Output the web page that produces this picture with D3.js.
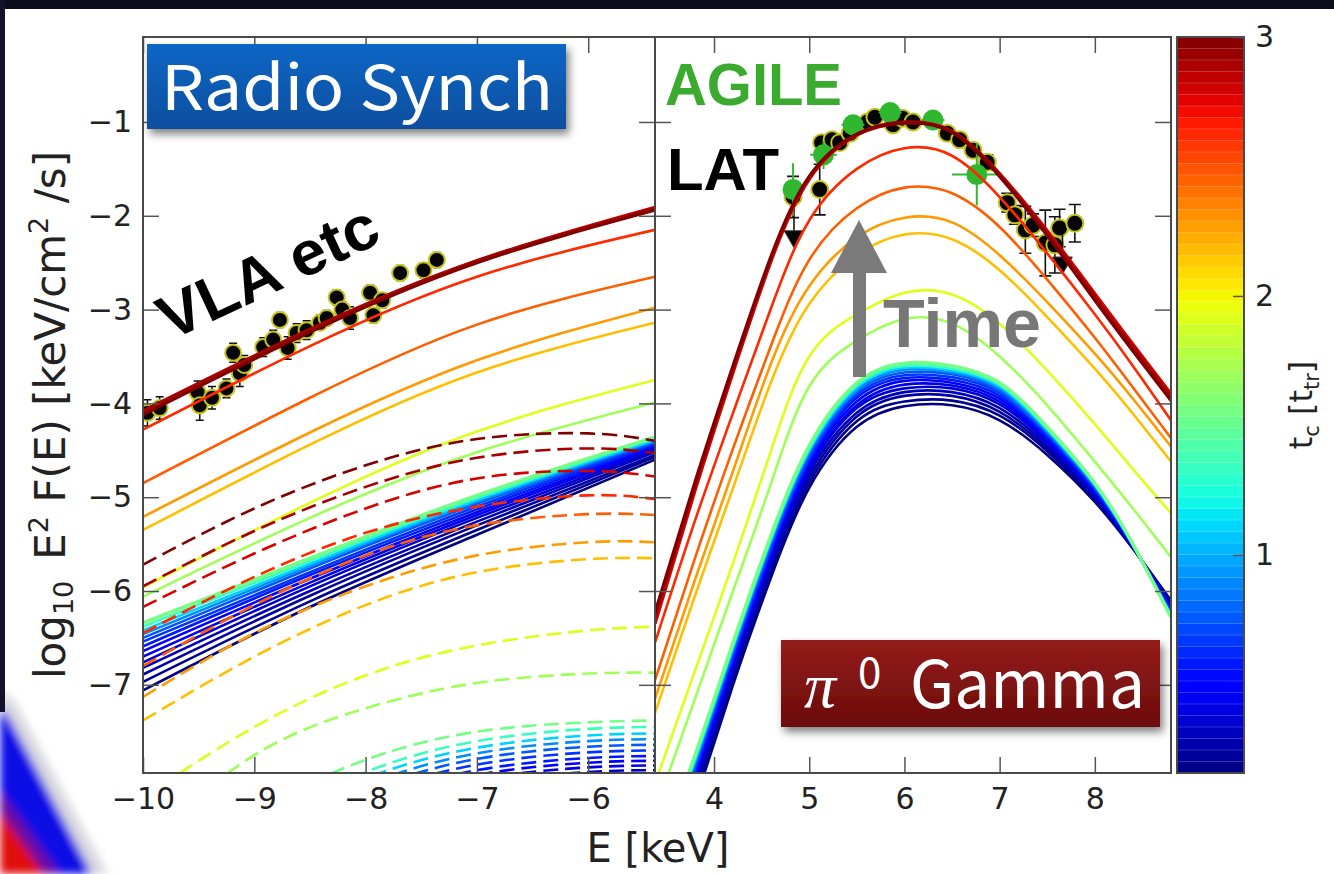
<!DOCTYPE html>
<html>
<head>
<meta charset="utf-8">
<script src="https://cdn.jsdelivr.net/npm/d3@7/dist/d3.min.js"></script>
<style>
  html, body { margin: 0; padding: 0; background: #ffffff; }
  svg { display: block; }
</style>
</head>
<body>
<svg id="chart" width="1334" height="874"></svg>
<script>
// ---------------- data ----------------
// model time steps t_c [t_tr]: the dense early bundle, then the later steps
const bundleT = [0.16, 0.20, 0.25, 0.30, 0.36, 0.42, 0.50, 0.58, 0.66, 0.76, 0.90, 1.10, 1.35, 1.55];
const lateT   = [1.70, 1.92, 2.17, 2.28, 2.46, 2.62, 2.78, 2.90, 3.00];

// radio synchrotron (solid lines): log10 E^2 F(E) sampled at synchE
const synchE = [-10, -8.5, -7, -5.4];
const synchBundle = [
  [-7.06, -6.17, -5.40, -4.60],
  [-6.97, -6.11, -5.35, -4.57],
  [-6.89, -6.05, -5.30, -4.55],
  [-6.82, -6.00, -5.26, -4.52],
  [-6.76, -5.95, -5.22, -4.50],
  [-6.70, -5.91, -5.19, -4.48],
  [-6.64, -5.87, -5.16, -4.46],
  [-6.59, -5.83, -5.13, -4.44],
  [-6.54, -5.80, -5.10, -4.43],
  [-6.50, -5.76, -5.07, -4.41],
  [-6.46, -5.73, -5.05, -4.40],
  [-6.42, -5.71, -5.03, -4.39],
  [-6.38, -5.68, -5.01, -4.37],
  [-6.34, -5.65, -4.98, -4.36]
];
const synchLate = [
  [-6.06, -5.22, -4.52, -3.99],
  [-5.96, -5.06, -4.30, -3.75],
  [-5.35, -4.44, -3.67, -3.14],
  [-5.21, -4.31, -3.54, -2.98],
  [-4.85, -3.94, -3.16, -2.65],
  [-4.28, -3.39, -2.65, -2.15],
  [-4.10, -3.22, -2.48, -1.91],
  [-4.08, -3.21, -2.48, -1.92],
  [-4.12, -3.24, -2.50, -1.94]
];

// second electron component (dashed lines), sampled at dashE
const dashE = [-10, -9, -8, -7, -6, -5.4];
const dashBundle = [
  [-10.40, -9.30, -8.65, -8.31, -8.18, -8.16],
  [-10.33, -9.23, -8.58, -8.24, -8.11, -8.09],
  [-10.27, -9.17, -8.52, -8.18, -8.05, -8.03],
  [-10.20, -9.10, -8.45, -8.11, -7.98, -7.96],
  [-10.15, -9.05, -8.40, -8.06, -7.93, -7.91],
  [-10.10, -9.00, -8.35, -8.01, -7.88, -7.86],
  [-10.05, -8.95, -8.30, -7.96, -7.83, -7.81],
  [-10.00, -8.90, -8.25, -7.91, -7.78, -7.76],
  [-9.94, -8.84, -8.19, -7.85, -7.72, -7.70],
  [-9.88, -8.78, -8.13, -7.79, -7.66, -7.64],
  [-9.82, -8.72, -8.07, -7.73, -7.60, -7.58],
  [-9.75, -8.65, -8.00, -7.67, -7.54, -7.52],
  [-9.68, -8.58, -7.93, -7.60, -7.47, -7.45],
  [-9.55, -8.42, -7.80, -7.50, -7.40, -7.38]
];
const dashLate = [
  [-8.70, -7.75, -7.25, -6.98, -6.88, -6.87],
  [-8.20, -7.45, -6.90, -6.58, -6.42, -6.38],
  [-7.38, -6.70, -6.15, -5.80, -5.66, -5.65],
  [-7.13, -6.45, -5.95, -5.62, -5.48, -5.48],
  [-6.80, -6.15, -5.62, -5.30, -5.18, -5.19],
  [-6.45, -5.85, -5.38, -5.10, -4.98, -5.02],
  [-6.17, -5.60, -5.12, -4.80, -4.72, -4.78],
  [-5.95, -5.36, -4.89, -4.58, -4.48, -4.53],
  [-5.72, -5.12, -4.66, -4.38, -4.32, -4.40]
];

// pi0-decay gamma rays (solid lines), sampled at gammaE
const gammaE = [3.38, 3.8, 4.2, 4.6, 5.0, 5.5, 6.0, 6.5, 7.0, 7.5, 8.0, 8.4, 8.8];
const gammaBundle = [
  [-9.50, -8.25, -7.00, -5.85, -4.90, -4.25, -4.03, -4.02, -4.18, -4.55, -5.05, -5.55, -6.10],
  [-9.43, -8.19, -6.95, -5.80, -4.85, -4.19, -3.98, -3.97, -4.13, -4.51, -5.03, -5.54, -6.12],
  [-9.36, -8.14, -6.90, -5.75, -4.80, -4.14, -3.92, -3.92, -4.09, -4.48, -5.00, -5.54, -6.14],
  [-9.30, -8.09, -6.85, -5.70, -4.75, -4.10, -3.88, -3.88, -4.05, -4.45, -4.98, -5.53, -6.16],
  [-9.25, -8.04, -6.81, -5.66, -4.71, -4.05, -3.84, -3.84, -4.01, -4.42, -4.97, -5.53, -6.18],
  [-9.20, -8.00, -6.78, -5.63, -4.68, -4.02, -3.80, -3.81, -3.98, -4.40, -4.95, -5.53, -6.19],
  [-9.15, -7.96, -6.74, -5.59, -4.64, -3.98, -3.76, -3.78, -3.95, -4.38, -4.93, -5.52, -6.20],
  [-9.11, -7.93, -6.71, -5.56, -4.61, -3.94, -3.73, -3.75, -3.92, -4.36, -4.92, -5.52, -6.22],
  [-9.07, -7.89, -6.68, -5.53, -4.58, -3.91, -3.70, -3.72, -3.89, -4.33, -4.91, -5.51, -6.23],
  [-9.03, -7.86, -6.65, -5.50, -4.55, -3.88, -3.67, -3.69, -3.87, -4.32, -4.89, -5.51, -6.24],
  [-9.00, -7.83, -6.62, -5.47, -4.52, -3.86, -3.64, -3.67, -3.84, -4.30, -4.88, -5.51, -6.25],
  [-8.97, -7.81, -6.60, -5.45, -4.50, -3.83, -3.62, -3.65, -3.82, -4.28, -4.87, -5.51, -6.26],
  [-8.94, -7.78, -6.58, -5.43, -4.48, -3.81, -3.60, -3.63, -3.80, -4.27, -4.86, -5.50, -6.27],
  [-8.90, -7.75, -6.55, -5.40, -4.45, -3.78, -3.57, -3.60, -3.78, -4.25, -4.85, -5.50, -6.28]
];
const gammaLate = [
  [-8.35, -7.15, -6.00, -4.85, -3.82, -3.33, -3.10, -3.15, -3.50, -4.02, -4.62, -5.12, -5.64],
  [-8.05, -6.85, -5.70, -4.50, -3.50, -3.05, -2.82, -2.84, -3.15, -3.65, -4.22, -4.70, -5.17],
  [-7.30, -6.05, -4.90, -3.77, -2.94, -2.42, -2.20, -2.25, -2.58, -3.08, -3.63, -4.11, -4.62],
  [-7.15, -5.88, -4.72, -3.57, -2.75, -2.23, -2.02, -2.07, -2.42, -2.92, -3.47, -3.95, -4.46],
  [-6.95, -5.65, -4.48, -3.38, -2.47, -1.92, -1.70, -1.76, -2.12, -2.68, -3.30, -3.83, -4.37],
  [-6.55, -5.25, -4.10, -2.98, -2.05, -1.50, -1.28, -1.36, -1.80, -2.40, -3.05, -3.60, -4.18],
  [-6.35, -4.93, -3.67, -2.48, -1.61, -1.14, -1.01, -1.10, -1.55, -2.16, -2.83, -3.37, -3.90],
  [-6.28, -4.88, -3.63, -2.45, -1.59, -1.13, -1.00, -1.10, -1.56, -2.18, -2.86, -3.40, -3.93],
  [-6.23, -4.84, -3.60, -2.43, -1.58, -1.13, -1.01, -1.11, -1.58, -2.21, -2.90, -3.44, -3.97]
];

// radio measurements (VLA etc)
const vlaE   = [-9.96, -9.85, -9.51, -9.49, -9.38, -9.25, -9.19, -9.13, -9.09, -8.92, -8.83, -8.77, -8.70,
                -8.62, -8.53, -8.41, -8.35, -8.26, -8.21, -8.14, -7.96, -7.93, -7.85, -7.69, -7.48, -7.36];
const vlaF   = [-4.10, -4.05, -3.88, -4.02, -3.94, -3.84, -3.46, -3.68, -3.59, -3.40, -3.32, -3.11, -3.41,
                -3.25, -3.22, -3.14, -3.09, -2.87, -3.00, -3.09, -2.82, -3.06, -2.90, -2.61, -2.58, -2.47];
const vlaErr = [0.14, 0.12, 0.12, 0.16, 0.12, 0.10, 0.10, 0.14, 0.10, 0.10, 0.10, 0.08, 0.12,
                0.10, 0.10, 0.08, 0.08, 0.08, 0.08, 0.12, 0.08, 0.08, 0.08, 0.08, 0.08, 0.08];

// Fermi-LAT measurements
const latE   = [4.83, 5.11, 5.13, 5.24, 5.32, 5.43, 5.61, 5.69, 5.88, 5.98, 6.09, 6.30,
                6.45, 6.58, 6.72, 6.87, 7.08, 7.16, 7.27, 7.35, 7.48, 7.58, 7.63, 7.79];
const latF   = [-1.80, -1.72, -1.22, -1.19, -1.22, -1.12, -1.00, -0.95, -1.03, -0.96, -1.00, -0.98,
                -1.12, -1.19, -1.30, -1.43, -1.86, -1.99, -2.15, -2.10, -2.29, -2.31, -2.13, -2.08];
const latErr = [0.22, 0.27, 0.06, 0.06, 0.05, 0.05, 0.05, 0.05, 0.05, 0.05, 0.05, 0.05,
                0.06, 0.06, 0.07, 0.08, 0.10, 0.10, 0.25, 0.12, 0.35, 0.30, 0.20, 0.20];

// AGILE measurements
const agileE    = [4.83, 5.15, 5.46, 5.85, 6.30, 6.76];
const agileF    = [-1.72, -1.35, -1.03, -0.90, -0.98, -1.56];
const agileErrE = [0.10, 0.14, 0.12, 0.12, 0.12, 0.26];
const agileErrF = [0.28, 0.15, 0.10, 0.10, 0.10, 0.33];

// upper limits
const ulE = [4.84, 7.66];
const ulF = [-2.22, -2.50];

// axis ticks
const synchTicks = [-10, -9, -8, -7, -6];
const gammaTicks = [4, 5, 6, 7, 8];
const fluxTicks  = [-7, -6, -5, -4, -3, -2, -1];
const cbarTicks  = [1, 2, 3];

// ---------------- scales ----------------
const svg = d3.select("#chart");
const W = 1334, H = 874;
const plotTop = 37, plotBottom = 773;
const xL = d3.scaleLinear().domain([-10, -5.4]).range([143, 655]);
const xR = d3.scaleLinear().domain([3.38, 8.8]).range([655, 1171]);
const y  = d3.scaleLinear().domain([-7.94, -0.094]).range([plotBottom, plotTop]);

// jet colour map over the time range of the colour bar
const tMin = 0.158, tMax = 3.0;
const tNorm = d3.scaleLinear().domain([tMin, tMax]).range([0, 1]).clamp(true);
const jr = d3.scaleLinear().domain([0, 0.35, 0.66, 0.89, 1]).range([0, 0, 1, 1, 0.5]).clamp(true);
const jg = d3.scaleLinear().domain([0, 0.125, 0.375, 0.64, 0.91, 1]).range([0, 0, 1, 1, 0, 0]).clamp(true);
const jb = d3.scaleLinear().domain([0, 0.11, 0.34, 0.65, 1]).range([0.5, 1, 1, 0, 0]).clamp(true);
const jet = t => { const n = tNorm(t); return d3.rgb(255 * jr(n), 255 * jg(n), 255 * jb(n)).formatHex(); };

const minus = d => (d < 0 ? "\u2212" + Math.abs(d) : String(d));

// ---------------- defs ----------------
const defs = svg.append("defs");
defs.append("clipPath").attr("id", "clipL").append("rect")
  .attr("x", xL.range()[0]).attr("y", plotTop).attr("width", xL.range()[1] - xL.range()[0]).attr("height", plotBottom - plotTop);
defs.append("clipPath").attr("id", "clipR").append("rect")
  .attr("x", xR.range()[0]).attr("y", plotTop).attr("width", xR.range()[1] - xR.range()[0]).attr("height", plotBottom - plotTop);

const shadow = defs.append("filter").attr("id", "shadow")
  .attr("x", "-10%").attr("y", "-20%").attr("width", "130%").attr("height", "160%");
shadow.append("feDropShadow").attr("dx", 3).attr("dy", 5).attr("stdDeviation", 4)
  .attr("flood-color", "#000").attr("flood-opacity", 0.5);

const soft = defs.append("filter").attr("id", "soft").attr("x", "-30%").attr("y", "-30%").attr("width", "160%").attr("height", "160%");
soft.append("feGaussianBlur").attr("stdDeviation", 4);

const blueGrad = defs.append("linearGradient").attr("id", "blueBox").attr("x1", 0).attr("y1", 0).attr("x2", 0).attr("y2", 1);
blueGrad.append("stop").attr("offset", "0%").attr("stop-color", "#0e66c6");
blueGrad.append("stop").attr("offset", "100%").attr("stop-color", "#0a4e9e");
const redGrad = defs.append("linearGradient").attr("id", "redBox").attr("x1", 0).attr("y1", 0).attr("x2", 0).attr("y2", 1);
redGrad.append("stop").attr("offset", "0%").attr("stop-color", "#951c1b");
redGrad.append("stop").attr("offset", "100%").attr("stop-color", "#6b0c0b");

// ---------------- slide backdrop ----------------
svg.append("rect").attr("width", W).attr("height", H).attr("fill", "#ffffff");
const swoosh = svg.append("g").attr("filter", "url(#soft)");
swoosh.append("polygon").attr("points", "0,690 14,700 108,874 0,874").attr("fill", "#d8d8e0");
swoosh.append("polygon").attr("points", "0,708 8,716 92,874 0,874").attr("fill", "#0a0ae6");
swoosh.append("polygon").attr("points", "0,790 60,874 0,874").attr("fill", "#6a0aa0");
swoosh.append("polygon").attr("points", "0,812 44,874 0,874").attr("fill", "#e01010");
svg.append("rect").attr("x", 0).attr("y", 0).attr("width", W).attr("height", 9).attr("fill", "#0c0d1a");
svg.append("rect").attr("x", 0).attr("y", 0).attr("width", 5).attr("height", 712).attr("fill", "#12132a");

// ---------------- left panel: radio synchrotron ----------------
const gL = svg.append("g").attr("clip-path", "url(#clipL)");

// VLA data (drawn beneath the model curves)
const vla = vlaE.map((e, i) => ({ e, f: vlaF[i], err: vlaErr[i] }));
gL.append("g").selectAll("path").data(vla).join("path")
  .attr("d", d => {
    const x = xL(d.e), y0 = y(d.f - d.err), y1 = y(d.f + d.err);
    return `M${x},${y0}V${y1}M${x - 4},${y0}H${x + 4}M${x - 4},${y1}H${x + 4}`;
  })
  .attr("stroke", "#111").attr("stroke-width", 1.5).attr("fill", "none");
gL.append("g").selectAll("circle").data(vla).join("circle")
  .attr("cx", d => xL(d.e)).attr("cy", d => y(d.f)).attr("r", 8)
  .attr("fill", "#050505").attr("stroke", "#c4c41c").attr("stroke-width", 2);

const allT = bundleT.concat(lateT);
const synchRows = synchBundle.concat(synchLate);
const dashRows = dashBundle.concat(dashLate);
const gammaRows = gammaBundle.concat(gammaLate);

const synchLine = d3.line().x((d, i) => xL(synchE[i])).y(d => y(d)).curve(d3.curveNatural);
const dashLine = d3.line().x((d, i) => xL(dashE[i])).y(d => y(d)).curve(d3.curveNatural);
const gammaLine = d3.line().x((d, i) => xR(gammaE[i])).y(d => y(d)).curve(d3.curveNatural);

// the last, greenest member of the early bundle is drawn a little heavier
const lineWidth = t => (t >= 2.78 ? 3.3 : (t === bundleT[bundleT.length - 1] ? 3.4 : 2.6));

allT.forEach((t, i) => {
  gL.append("path").attr("d", synchLine(synchRows[i]))
    .attr("fill", "none").attr("stroke", jet(t)).attr("stroke-width", lineWidth(t));
  gL.append("path").attr("d", dashLine(dashRows[i]))
    .attr("fill", "none").attr("stroke", jet(t)).attr("stroke-width", 2.6)
    .attr("stroke-dasharray", "15,7");
});

// ---------------- right panel: pi0 gamma rays ----------------
const gR = svg.append("g").attr("clip-path", "url(#clipR)");

const lat = latE.map((e, i) => ({ e, f: latF[i], err: latErr[i] }));
gR.append("g").selectAll("path").data(lat).join("path")
  .attr("d", d => {
    const x = xR(d.e), y0 = y(d.f - d.err), y1 = y(d.f + d.err);
    return `M${x},${y0}V${y1}M${x - 6},${y0}H${x + 6}M${x - 6},${y1}H${x + 6}`;
  })
  .attr("stroke", "#111").attr("stroke-width", 1.6).attr("fill", "none");
gR.append("g").selectAll("circle").data(lat).join("circle")
  .attr("cx", d => xR(d.e)).attr("cy", d => y(d.f)).attr("r", 8.5)
  .attr("fill", "#050505").attr("stroke", "#c4c41c").attr("stroke-width", 2);

// upper limits
const ul = ulE.map((e, i) => ({ e, f: ulF[i] }));
gR.append("g").selectAll("path").data(ul).join("path")
  .attr("d", d => `M${xR(d.e)},${y(d.f + 0.3)}V${y(d.f)}`)
  .attr("stroke", "#111").attr("stroke-width", 1.6);
gR.append("g").selectAll("path.tri").data(ul).join("path").attr("class", "tri")
  .attr("transform", d => `translate(${xR(d.e)},${y(d.f)}) rotate(180)`)
  .attr("d", d3.symbol(d3.symbolTriangle, 170))
  .attr("fill", "#050505").attr("stroke", "#444").attr("stroke-width", 1);

const agile = agileE.map((e, i) => ({ e, f: agileF[i], ee: agileErrE[i], ef: agileErrF[i] }));
gR.append("g").selectAll("path").data(agile).join("path")
  .attr("d", d => `M${xR(d.e - d.ee)},${y(d.f)}H${xR(d.e + d.ee)}M${xR(d.e)},${y(d.f - d.ef)}V${y(d.f + d.ef)}`)
  .attr("stroke", "#33b833").attr("stroke-width", 2).attr("fill", "none");
gR.append("g").selectAll("circle").data(agile).join("circle")
  .attr("cx", d => xR(d.e)).attr("cy", d => y(d.f)).attr("r", 10.5)
  .attr("fill", "#2fb82f");

allT.forEach((t, i) => {
  gR.append("path").attr("d", gammaLine(gammaRows[i]))
    .attr("fill", "none").attr("stroke", jet(t)).attr("stroke-width", lineWidth(t));
});

// ---------------- axes ----------------
const tickLen = 16;
function styleAxis(g) {
  g.select(".domain").remove();
  g.selectAll(".tick line").attr("stroke", "#555").attr("stroke-width", 1.5);
  g.selectAll(".tick text").attr("fill", "#222")
    .style("font-family", "'DejaVu Sans', sans-serif").style("font-size", "30px");
}
// left panel
svg.append("g").attr("transform", `translate(0,${plotBottom})`)
  .call(d3.axisBottom(xL).tickValues(synchTicks).tickFormat(minus).tickSize(-tickLen).tickPadding(15))
  .call(styleAxis);
svg.append("g").attr("transform", `translate(0,${plotTop})`)
  .call(d3.axisTop(xL).tickValues(synchTicks).tickFormat("").tickSize(-tickLen))
  .call(styleAxis);
svg.append("g").attr("transform", `translate(${xL.range()[0]},0)`)
  .call(d3.axisLeft(y).tickValues(fluxTicks).tickFormat(minus).tickSize(-tickLen).tickPadding(11))
  .call(styleAxis);
svg.append("g").attr("transform", `translate(${xL.range()[1]},0)`)
  .call(d3.axisRight(y).tickValues(fluxTicks).tickFormat("").tickSize(-tickLen))
  .call(styleAxis);
// right panel
svg.append("g").attr("transform", `translate(0,${plotBottom})`)
  .call(d3.axisBottom(xR).tickValues(gammaTicks).tickFormat(minus).tickSize(-tickLen).tickPadding(15))
  .call(styleAxis);
svg.append("g").attr("transform", `translate(0,${plotTop})`)
  .call(d3.axisTop(xR).tickValues(gammaTicks).tickFormat("").tickSize(-tickLen))
  .call(styleAxis);
svg.append("g").attr("transform", `translate(${xR.range()[0]},0)`)
  .call(d3.axisLeft(y).tickValues(fluxTicks).tickFormat("").tickSize(-tickLen))
  .call(styleAxis);
svg.append("g").attr("transform", `translate(${xR.range()[1]},0)`)
  .call(d3.axisRight(y).tickValues(fluxTicks).tickFormat("").tickSize(-tickLen))
  .call(styleAxis);

// frames
[xL, xR].forEach(sc => {
  svg.append("rect").attr("x", sc.range()[0]).attr("y", plotTop)
    .attr("width", sc.range()[1] - sc.range()[0]).attr("height", plotBottom - plotTop)
    .attr("fill", "none").attr("stroke", "#4a4a4a").attr("stroke-width", 2);
});

// axis titles
svg.append("text").attr("x", 658).attr("y", 862).attr("text-anchor", "middle")
  .attr("fill", "#222").style("font-family", "'DejaVu Sans', sans-serif").style("font-size", "40px")
  .text("E [keV]");

const ylab = svg.append("text").attr("transform", "translate(65,415) rotate(-90)")
  .attr("text-anchor", "middle").attr("fill", "#222")
  .style("font-family", "'DejaVu Sans', sans-serif").style("font-size", "42px");
ylab.append("tspan").text("log");
ylab.append("tspan").attr("dy", 8).style("font-size", "27px").text("10");
ylab.append("tspan").attr("dy", -8).text("\u2002E");
ylab.append("tspan").attr("dy", -17).style("font-size", "27px").text("2");
ylab.append("tspan").attr("dy", 17).text(" F(E) [keV/cm");
ylab.append("tspan").attr("dy", -17).style("font-size", "27px").text("2");
ylab.append("tspan").attr("dy", 17).text(" /s]");

// ---------------- colour bar ----------------
const cbX = 1177, cbW = 67;
const cb = d3.scaleLinear().domain([tMin, tMax]).range([plotBottom, plotTop]);
const nBands = 64;
const bands = d3.range(nBands).map(i => tMin + (i + 0.5) * (tMax - tMin) / nBands);
const bandH = (plotBottom - plotTop) / nBands;
svg.append("g").selectAll("rect").data(bands).join("rect")
  .attr("x", cbX).attr("width", cbW)
  .attr("y", d => cb(d) - bandH / 2 - 0.3).attr("height", bandH + 0.6)
  .attr("fill", d => jet(d));
svg.append("g").selectAll("line").data(bands.slice(1)).join("line")
  .attr("x1", cbX).attr("x2", cbX + cbW)
  .attr("y1", d => cb(d) + bandH / 2).attr("y2", d => cb(d) + bandH / 2)
  .attr("stroke", "#ffffff").attr("stroke-opacity", 0.18).attr("stroke-width", 1);
svg.append("rect").attr("x", cbX).attr("y", plotTop).attr("width", cbW).attr("height", plotBottom - plotTop)
  .attr("fill", "none").attr("stroke", "#4a4a4a").attr("stroke-width", 2);
svg.append("g").attr("transform", `translate(${cbX + cbW},0)`)
  .call(d3.axisRight(cb).tickValues(cbarTicks).tickFormat(d3.format("d")).tickSize(-11).tickPadding(11))
  .call(styleAxis);

const cbl = svg.append("text").attr("transform", "translate(1312,405) rotate(-90)")
  .attr("text-anchor", "middle").attr("fill", "#222")
  .style("font-family", "'DejaVu Sans', sans-serif").style("font-size", "32px");
cbl.append("tspan").text("t");
cbl.append("tspan").attr("dy", 7).style("font-size", "21px").text("c");
cbl.append("tspan").attr("dy", -7).text(" [t");
cbl.append("tspan").attr("dy", 7).style("font-size", "21px").text("tr");
cbl.append("tspan").attr("dy", -7).text("]");

// ---------------- annotations ----------------
svg.append("rect").attr("x", 147).attr("y", 44).attr("width", 419).attr("height", 85)
  .attr("fill", "url(#blueBox)").attr("filter", "url(#shadow)");
svg.append("text").attr("x", 161).attr("y", 110).attr("fill", "#ffffff")
  .attr("textLength", 392).attr("lengthAdjust", "spacingAndGlyphs")
  .style("font-family", "'Noto Sans CJK JP', 'Open Sans', sans-serif").style("font-size", "62px")
  .text("Radio Synch");

svg.append("text").attr("transform", "translate(170,341) rotate(-25)").attr("fill", "#000")
  .attr("textLength", 236).attr("lengthAdjust", "spacingAndGlyphs")
  .style("font-family", "'Liberation Sans', Arial, sans-serif").style("font-size", "62px").style("font-weight", "bold")
  .text("VLA etc");

svg.append("text").attr("x", 665).attr("y", 105).attr("fill", "#3aab2f")
  .attr("textLength", 177).attr("lengthAdjust", "spacingAndGlyphs")
  .style("font-family", "'Liberation Sans', Arial, sans-serif").style("font-size", "60px").style("font-weight", "bold")
  .text("AGILE");
svg.append("text").attr("x", 667).attr("y", 190).attr("fill", "#000")
  .attr("textLength", 112).attr("lengthAdjust", "spacingAndGlyphs")
  .style("font-family", "'Liberation Sans', Arial, sans-serif").style("font-size", "60px").style("font-weight", "bold")
  .text("LAT");

// time arrow
svg.append("path").attr("d", "M853,377V273H831L859,220L887,273H866V377Z").attr("fill", "#7a7a7a");
svg.append("text").attr("x", 883).attr("y", 347).attr("fill", "#777")
  .attr("textLength", 158).attr("lengthAdjust", "spacingAndGlyphs")
  .style("font-family", "'Liberation Sans', Arial, sans-serif").style("font-size", "68px").style("font-weight", "bold")
  .text("Time");

svg.append("rect").attr("x", 781).attr("y", 640).attr("width", 379).attr("height", 87)
  .attr("fill", "url(#redBox)").attr("filter", "url(#shadow)");
svg.append("text").attr("x", 804).attr("y", 707).attr("fill", "#ffffff")
  .style("font-family", "'Liberation Serif', 'DejaVu Serif', serif").style("font-size", "64px").style("font-style", "italic")
  .text("\u03c0");
svg.append("text").attr("x", 858).attr("y", 688).attr("fill", "#ffffff")
  .style("font-family", "'Noto Sans CJK JP', 'Open Sans', sans-serif").style("font-size", "42px")
  .text("0");
svg.append("text").attr("x", 910).attr("y", 708).attr("fill", "#ffffff")
  .attr("textLength", 235).attr("lengthAdjust", "spacingAndGlyphs")
  .style("font-family", "'Noto Sans CJK JP', 'Open Sans', sans-serif").style("font-size", "66px")
  .text("Gamma");
</script>
</body>
</html>
